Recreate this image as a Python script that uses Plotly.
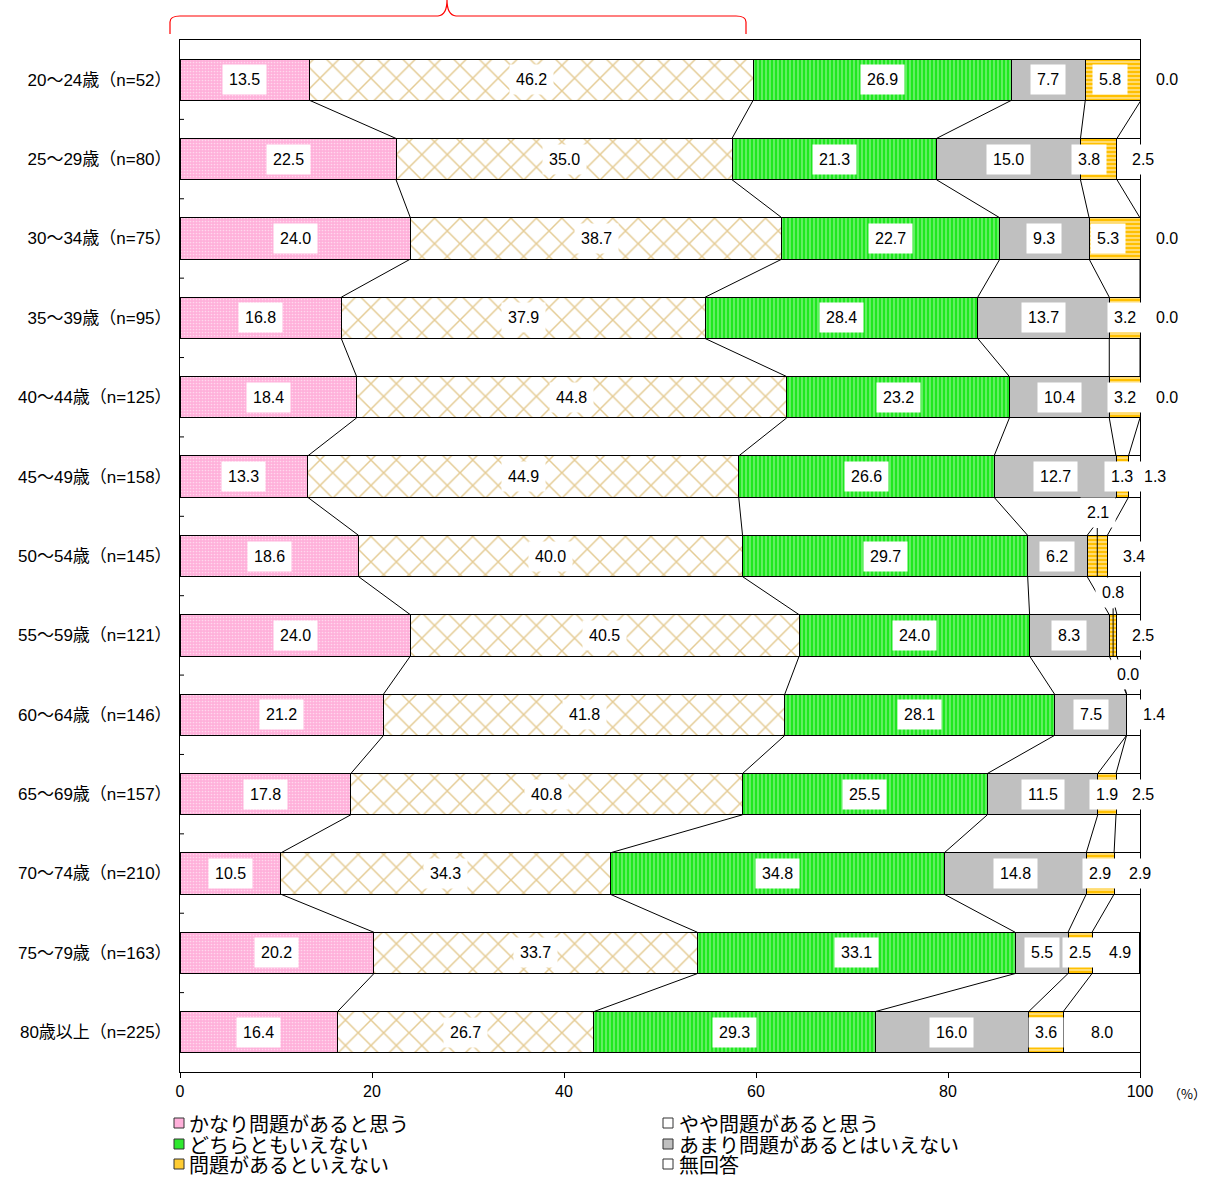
import plotly.graph_objects as go

# ---- data -------------------------------------------------------------
age_groups = [
    "20〜24歳（n=52）", "25〜29歳（n=80）", "30〜34歳（n=75）", "35〜39歳（n=95）",
    "40〜44歳（n=125）", "45〜49歳（n=158）", "50〜54歳（n=145）", "55〜59歳（n=121）",
    "60〜64歳（n=146）", "65〜69歳（n=157）", "70〜74歳（n=210）", "75〜79歳（n=163）",
    "80歳以上（n=225）",
]
series_names = [
    "かなり問題があると思う", "やや問題があると思う", "どちらともいえない",
    "あまり問題があるとはいえない", "問題があるといえない", "無回答",
]
very_serious = [13.5, 22.5, 24.0, 16.8, 18.4, 13.3, 18.6, 24.0, 21.2, 17.8, 10.5, 20.2, 16.4]
somewhat_serious = [46.2, 35.0, 38.7, 37.9, 44.8, 44.9, 40.0, 40.5, 41.8, 40.8, 34.3, 33.7, 26.7]
neither = [26.9, 21.3, 22.7, 28.4, 23.2, 26.6, 29.7, 24.0, 28.1, 25.5, 34.8, 33.1, 29.3]
not_very_serious = [7.7, 15.0, 9.3, 13.7, 10.4, 12.7, 6.2, 8.3, 7.5, 11.5, 14.8, 5.5, 16.0]
not_a_problem = [5.8, 3.8, 5.3, 3.2, 3.2, 1.3, 2.1, 0.8, 0.0, 1.9, 2.9, 2.5, 3.6]
no_answer = [0.0, 2.5, 0.0, 0.0, 0.0, 1.3, 3.4, 2.5, 1.4, 2.5, 2.9, 4.9, 8.0]
x_ticks = [0, 20, 40, 60, 80, 100]

values = [very_serious, somewhat_serious, neither, not_very_serious, not_a_problem, no_answer]

# ---- styling ----------------------------------------------------------
W, H = 1223, 1177
L, R, T, B = 180, 83, 40, 105
PLOT_W, PLOT_H = W - L - R, H - T - B
PX_PER_UNIT = PLOT_W / 100
BAR_W = 0.52
ROW_PX = PLOT_H / len(age_groups)
NUM_FONT = "Liberation Sans, Arial, Noto Sans CJK JP"
JP_FONT = "Noto Sans CJK JP, Liberation Sans"

patterns = [
    dict(shape=".", bgcolor="#ffb0da", fgcolor="#ffffff", size=3, solidity=0.25),
    dict(shape="x", bgcolor="#ffffff", fgcolor="#c9982a", size=18, solidity=0.16),
    dict(shape="|", bgcolor="#1fe81f", fgcolor="#ffffff", size=4, solidity=0.3),
    None,
    dict(shape="-", bgcolor="#ffc000", fgcolor="#ffffff", size=4, solidity=0.45),
    None,
]
solid_colors = ["#ffb0da", "#ffffff", "#1fe81f", "#c0c0c0", "#ffc000", "#ffffff"]
legend_swatch = ["#ffb0da", "#ffffff", "#2fe82f", "#c0c0c0", "#ffcc33", "#ffffff"]

# label nudges in pixels for segments too narrow to hold their label
label_nudge = {
    (0, 4): (-3, 0), (0, 5): (26, 0),
    (1, 4): (-10, 0), (1, 5): (14, 0),
    (2, 4): (-7, 0), (2, 5): (27, 0),
    (3, 5): (27, 0), (4, 5): (27, 0),
    (5, 5): (20, 0),
    (6, 4): (1, -44), (6, 5): (10, 0),
    (7, 4): (0, -43), (7, 5): (14, 0),
    (8, 4): (1, -40), (8, 5): (21, 0),
    (9, 5): (15, 0),
    (10, 5): (12, 0),
    (11, 5): (4, 0),
}
leader_lines = [(6, 4), (7, 4)]

rows = list(range(len(age_groups)))

fig = go.Figure()
for k, (name, vals) in enumerate(zip(series_names, values)):
    marker = dict(color=solid_colors[k], line=dict(color="black", width=1))
    if patterns[k] is not None:
        marker["pattern"] = patterns[k]
    fig.add_trace(go.Bar(
        y=rows, x=vals, name=name, orientation="h", width=BAR_W,
        marker=marker, showlegend=False, hoverinfo="x+name",
    ))

# cumulative boundaries per row
cums = []
for i in rows:
    c, acc = [], 0.0
    for vals in values:
        acc += vals[i]
        c.append(acc)
    cums.append(c)

# series lines joining segment boundaries of neighbouring bars
sx, sy = [], []
for i in rows[:-1]:
    for k in range(len(values) - 1):
        sx += [cums[i][k], cums[i + 1][k], None]
        sy += [i + BAR_W / 2, i + 1 - BAR_W / 2, None]
fig.add_trace(go.Scatter(
    x=sx, y=sy, mode="lines", line=dict(color="black", width=1),
    hoverinfo="skip", showlegend=False,
))

shapes = []
annotations = []

# value labels
for i in rows:
    for k, vals in enumerate(values):
        start = cums[i][k] - vals[i]
        cx = start + vals[i] / 2
        dx, dy = label_nudge.get((i, k), (0, 0))
        # keep the anchor inside the axis range so the label is not dropped
        ax = min(cx, 100.0)
        dx += (cx - ax) * PX_PER_UNIT
        annotations.append(dict(
            x=ax, y=i, xref="x", yref="y", text=f"{vals[i]:.1f}",
            showarrow=False, xshift=dx, yshift=-dy,
            font=dict(family=NUM_FONT, size=16, color="black"),
            bgcolor="white", borderpad=6,
        ))
        if (i, k) in leader_lines:
            shapes.append(dict(
                type="line", xref="x", yref="y",
                x0=cx, x1=cx,
                y0=i + (dy + 16) / ROW_PX, y1=i + BAR_W / 2,
                line=dict(color="black", width=1),
            ))

# inner tick marks between rows on the category axis
for i in rows[:-1]:
    shapes.append(dict(
        type="line", xref="paper", yref="y", x0=0, x1=4 / PLOT_W,
        y0=i + 0.5, y1=i + 0.5, line=dict(color="black", width=1),
    ))


def px_to_paper(px, py):
    return (px - L) / PLOT_W, (T + PLOT_H - py) / PLOT_H


def pt(px, py):
    x, y = px_to_paper(px, py)
    return f"{x:.5f},{y:.5f}"


# red brace spanning the first two answer groups
brace = (f"M{pt(170, 34)} L{pt(170, 22)} Q{pt(170, 16)} {pt(180, 16)} "
         f"L{pt(438, 16)} Q{pt(447, 15)} {pt(447, 0)} Q{pt(447, 15)} {pt(456, 16)} "
         f"L{pt(736, 16)} Q{pt(746, 16)} {pt(746, 22)} L{pt(746, 34)}")
shapes.append(dict(type="path", xref="paper", yref="paper", path=brace,
                   line=dict(color="#ff0000", width=1.2), layer="above"))

# unit label after the last x tick
ux, uy = px_to_paper(1187, 1093)
annotations.append(dict(x=ux, y=uy, xref="paper", yref="paper", text="（%）",
                        showarrow=False, font=dict(family=JP_FONT, size=13, color="black"),
                        xanchor="center", yanchor="middle"))

# legend: two columns, three rows
legend_cols_px = [(174, 188), (663, 678)]
legend_rows_py = [1123, 1144, 1164]
for k, name in enumerate(series_names):
    col, row = k % 2, k // 2
    mx, tx = legend_cols_px[col]
    py = legend_rows_py[row]
    x0, y0 = px_to_paper(mx, py + 5)
    x1, y1 = px_to_paper(mx + 10, py - 5)
    shapes.append(dict(type="rect", xref="paper", yref="paper", x0=x0, x1=x1, y0=y0, y1=y1,
                       fillcolor=legend_swatch[k], line=dict(color="#333333", width=1)))
    tx_p, ty_p = px_to_paper(tx, py)
    annotations.append(dict(x=tx_p, y=ty_p, xref="paper", yref="paper", text=name,
                            showarrow=False, xanchor="left", yanchor="middle",
                            height=21, valign="middle", borderpad=0,
                            font=dict(family=JP_FONT, size=20, color="black")))

fig.update_layout(
    width=W, height=H, barmode="stack",
    margin=dict(l=L, r=R, t=T, b=B, pad=0),
    paper_bgcolor="white", plot_bgcolor="white",
    font=dict(family=NUM_FONT, size=16, color="black"),
    shapes=shapes, annotations=annotations, showlegend=False,
    bargap=1 - BAR_W,
)
fig.update_xaxes(
    range=[0, 100], tickvals=x_ticks, ticktext=[str(v) for v in x_ticks],
    ticks="outside", ticklen=5, tickcolor="black", showgrid=False, zeroline=False,
    showline=True, linecolor="black", linewidth=1, mirror=True,
    tickfont=dict(family=NUM_FONT, size=16),
)
fig.update_yaxes(
    range=[len(age_groups) - 0.5, -0.5], tickvals=rows, ticktext=age_groups,
    ticks="", showgrid=False, zeroline=False,
    showline=True, linecolor="black", linewidth=1, mirror=True,
    tickfont=dict(family=NUM_FONT, size=17), ticklabelstandoff=4,
)

fig.write_html("out.html")
